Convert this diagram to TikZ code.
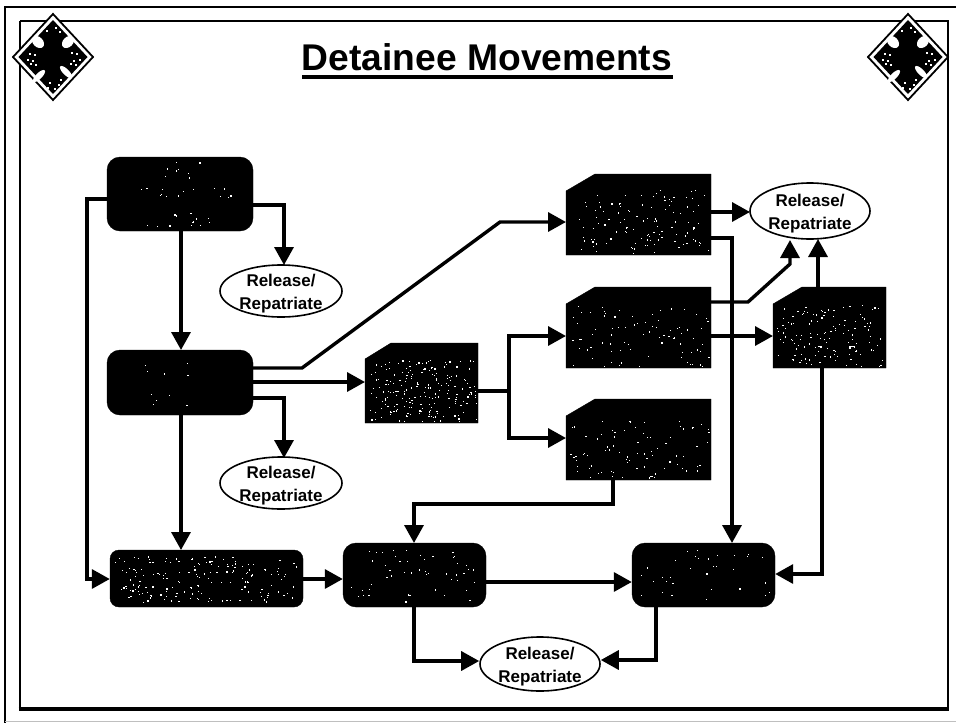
\documentclass[tikz,border=0pt]{standalone}
\usepackage{fontspec}
\setmainfont{Liberation Sans}
\usetikzlibrary{arrows.meta,shapes.geometric}
\tikzset{
  conn/.style={line width=3.4pt,-{Triangle[length=18pt,width=19pt]},line join=miter},
  darkround/.style={draw=black,fill=black,rounded corners=13pt},
  darksnip/.style={draw=black,fill=black},
  relnode/.style={ellipse,draw=black,line width=1.6pt,fill=white,inner sep=-12pt,align=center,font=\bfseries\fontsize{17}{23}\selectfont},
  emblem/.pic={
    \draw[black,line width=1.8pt,fill=white] (0,-43)--(40,0)--(0,43)--(-40,0)--cycle;
    \fill[black] (0,-37)--(34.5,0)--(0,37)--(-34.5,0)--cycle;
    \fill[white,rotate around={-45:(-15,-15)}] (-15,-15) ellipse (7pt and 5pt);
    \fill[white,rotate around={45:(15,-15)}] (15,-15) ellipse (7pt and 5pt);
    \fill[white,rotate around={45:(-14,19)}] (-14,19) ellipse (8pt and 3pt);
    \fill[white,rotate around={-45:(13,15)}] (13,15) ellipse (8pt and 3pt);
    \foreach \a/\b in {-24/-4,-21/3,-26/2,-19/-3,-23/6,-18/7,23/-4,20/3,26/2,18/-5,22/7,17/6,-7/-27,6/-26,2/-30,-4/25,5/27,1/31,-6/30,7/22}{
      \fill[white] (\a,\b) rectangle ++(1.5,1.5);
    }
  }
}
\newcommand{\specks}[5]{%
  \foreach \k in {1,...,#5}{%
    \pgfmathsetmacro{\sx}{#1+rnd*(#3-#1)}%
    \pgfmathsetmacro{\sy}{#2+rnd*(#4-#2)}%
    \fill[white] (\sx,\sy) rectangle ++(1.2,1.2);
  }%
}
\newcommand{\reltext}{\rule{0pt}{18pt}Release/\\Repatriate}
\begin{document}
\begin{tikzpicture}[x=1pt,y=-1pt]
\pgfmathsetseed{7}
\useasboundingbox (0,0) rectangle (956,723);
\fill[white] (0,0) rectangle (956,723);
% frames
\draw[black,line width=1.8pt] (956,7) -- (5,7) -- (5,723);
\draw[black!25,line width=1.4pt] (5,721.5) -- (956,721.5);
\draw[black,line width=2.8pt] (20,21) -- (948,21) -- (948,709);
\draw[black,line width=2.8pt] (20,21) -- (20,709);
\draw[black,line width=4pt] (18.6,709) -- (949.4,709);
% title
\node[font=\bfseries\fontsize{37.2}{42}\selectfont,anchor=base] (title) at (487,70) {Detainee Movements};
\coordinate (ulL) at (302,77);
\coordinate (ulR) at (673,77);
\draw[line width=4pt] (ulL) -- (ulR);
% emblems
\pic at (53,57) {emblem};
\pic at (908,57) {emblem};
% rounded boxes
\node[darkround,minimum width=146pt,minimum height=74pt,inner sep=0pt] (A) at (180,194) {};
\node[darkround,minimum width=146pt,minimum height=65pt,inner sep=0pt] (B) at (180,382.5) {};
\node[darkround,rounded corners=9pt,minimum width=193pt,minimum height=57pt,inner sep=0pt] (C) at (206.5,578.5) {};
\node[darkround,minimum width=143pt,minimum height=64pt,inner sep=0pt] (D) at (414.5,575) {};
\node[darkround,minimum width=143pt,minimum height=64pt,inner sep=0pt] (E) at (703.5,575) {};
% snipped boxes
\draw[darksnip] (365,359) -- (391,343) -- (478,343) -- (478,423) -- (365,423) -- cycle;
\draw[darksnip] (566,191) -- (595,174) -- (711,174) -- (711,255) -- (566,255) -- cycle;
\draw[darksnip] (566,304) -- (595,287) -- (711,287) -- (711,368) -- (566,368) -- cycle;
\draw[darksnip] (566,416) -- (595,399) -- (711,399) -- (711,480) -- (566,480) -- cycle;
\draw[darksnip] (773,304) -- (802,287) -- (886,287) -- (886,368) -- (773,368) -- cycle;
\coordinate (F) at (365,382);
\coordinate (Fr) at (478,391);
\coordinate (Gl) at (566,222);
\coordinate (Gr1) at (711,212);
\coordinate (Gr2) at (711,238);
\coordinate (Hl) at (566,336);
\coordinate (Hr1) at (711,302);
\coordinate (Hr2) at (711,336);
\coordinate (Il) at (566,438);
\coordinate (Ib) at (613,480);
\coordinate (Jl) at (773,336);
\coordinate (Jt) at (818,287);
\coordinate (Jb) at (822,368);
% specks
\specks{160}{160}{205}{178}{8}
\specks{135}{186}{232}{198}{14}
\specks{145}{212}{215}{226}{14}
\specks{145}{362}{200}{378}{5}
\specks{150}{392}{195}{405}{5}
\specks{115}{556}{298}{602}{170}
\specks{350}{548}{480}{602}{50}
\specks{640}{548}{770}{602}{32}
\specks{370}{360}{476}{421}{200}
\specks{575}{190}{709}{253}{110}
\specks{570}{305}{709}{366}{80}
\specks{570}{417}{709}{478}{80}
\specks{776}{305}{884}{366}{130}
% ellipses
\node[relnode,minimum width=122pt,minimum height=52pt] (R1) at (281,291) {\reltext};
\node[relnode,minimum width=122pt,minimum height=52pt] (R2) at (281,483) {\reltext};
\node[relnode,minimum width=120pt,minimum height=56pt] (R3) at (810,211) {\reltext};
\node[relnode,minimum width=120pt,minimum height=54pt] (R4) at (540,664) {\reltext};
% connectors
\coordinate (Cw) at (C.west |- 0,579);
\coordinate (Ce) at (C.east |- 0,579);
\coordinate (Dw) at (D.west |- 0,579);
\draw[conn] (A.east |- 0,205) -- (284,205) -- (284,265);
\draw[conn] (181,231) -- (181,350);
\draw[conn] (A.west |- 0,199) -- (87,199) -- (87,579) -- (Cw);
\draw[conn] (B.east |- 0,368) -- (302,368) -- (500,222) -- (Gl);
\draw[conn] (B.east |- 0,382) -- (F);
\draw[conn] (B.east |- 0,398) -- (284,398) -- (284,458);
\draw[conn] (181,415) -- (181,550);
\draw[conn] (Ce) -- (Dw);
\draw[line width=3.4pt] (Fr) -- (509,391);
\draw[conn] (509,391) -- (509,336) -- (Hl);
\draw[conn] (509,391) -- (509,438) -- (Il);
\draw[conn] (Gr1) -- (750,212);
\draw[conn] (Gr2) -- (732,238) -- (732,543);
\draw[conn] (Hr1) -- (748,302) -- (790,264) -- (790,240);
\draw[conn] (Hr2) -- (Jl);
\draw[conn] (Jt) -- (818,239);
\draw[conn,{Triangle[length=18pt,width=19pt]}-] (E.east |- 0,574) -- (822,574) -- (Jb);
\draw[conn] (D.east |- 0,582) -- (E.west |- 0,582);
\draw[conn] (Ib) -- (613,504) -- (414,504) -- (414,543);
\draw[conn] (414,607) -- (414,661) -- (R4.west |- 0,661);
\draw[conn] (656,607) -- (656,660) -- (R4.east |- 0,660);
\end{tikzpicture}
\end{document}
